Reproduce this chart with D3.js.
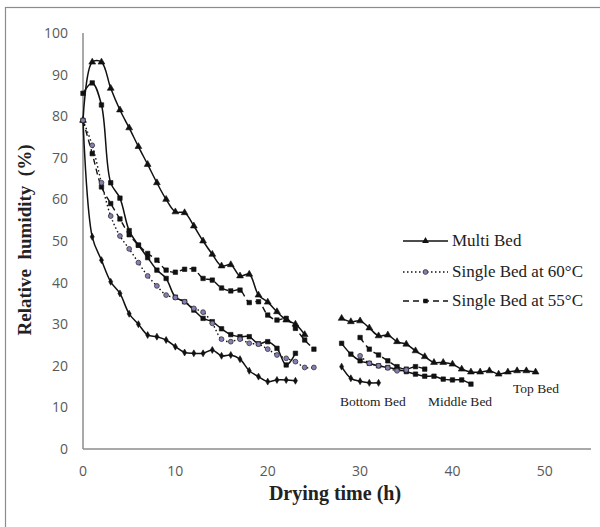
<!DOCTYPE html>
<head>
    <title>Relative humidity vs drying time</title>
    <script src="https://d3js.org/d3.v7.min.js"></script>
</head>
<style>
body { margin: 0; background: #fff; }
svg { display: block; }
.tick-label { font-family: "Open Sans", "Liberation Sans", sans-serif; font-size: 14px; fill: #595959; }
.serif { font-family: "Liberation Serif", "Times New Roman", serif; fill: #222; }
</style>
<body>
    <svg></svg>
</body>

<script>

    // Data (hours, and RH % per series; null = no reading)
    var hours = [0, 1, 2, 3, 4, 5, 6, 7, 8, 9, 10, 11, 12, 13, 14, 15, 16, 17, 18, 19, 20, 21, 22, 23, 24,
                 25, 26, 27, 28, 29, 30, 31, 32, 33, 34, 35, 36, 37, 38, 39, 40, 41, 42, 43, 44, 45, 46, 47, 48, 49];

    var topBed = [79, 93, 93, 86.7, 81.5, 77.2, 72.7, 68.4, 64, 60, 57, 56.8, 53.6, 50, 46.8, 44, 44.3, 41.6, 42, 37, 35.3, 33, 31, 30, 27.5,
                  null, null, null, 31.4, 30.6, 30.8, 29.1, 27.2, 27.4, 25.8, 25.2, 23.6, 22.2, 20.8, 20.8, 20.4, 19.2, 18.5, 18.5, 18.8, 18, 18.5, 18.8, 18.8, 18.5];

    var middleBed = [85.5, 88, 82.7, 64, 60.3, 52.5, 49, 46, 43, 41, 36.5, 35.4, 33.4, 31.4, 30.6, 28.9, 27.5, 27, 27, 25.3, 25.8, 24.2, 20.2, 23, null,
                     null, null, null, 25.4, 22.8, 21.2, 20.6, 20, 19.6, 19.2, 18.6, 18, 17.5, 17.5, 16.8, 16.6, 16.6, 15.6, null, null, null, null, null, null, null];

    var bottomBed = [79, 51, 45.4, 40.2, 37.4, 32.5, 30, 27.4, 27, 26.2, 24.6, 23.2, 23, 23, 23.8, 22.4, 22.6, 21.6, 18.8, 17.4, 16.2, 16.6, 16.6, 16.4, null,
                     null, null, null, 19.8, 17, 16.3, 15.9, 15.9, null, null, null, null, null, null, null, null, null, null, null, null, null, null, null, null, null];

    var single60 = [79, 73, 64, 56, 51.2, 48.1, 44.8, 41.6, 39.2, 37, 36.4, 35.4, 33.8, 32.9, 30.2, 26.4, 25.8, 26.4, 25.4, 25.2, 24, 22.6, 21.8, 21, 19.6,
                    19.6, null, null, null, null, 22.4, 20.6, 20, 19.5, 18.8, 19, null, null, null, null, null, null, null, null, null, null, null, null, null, null];

    var single55 = [79, 71, 63, 59, 55.3, 51.5, 49, 47, 45.4, 43, 42.5, 43.2, 43.2, 41, 40.6, 38.7, 38, 38.2, 35.2, 35.4, 32.2, 31, 31.4, 29, 26.2,
                    24, null, null, null, null, 26.8, 24, 22.6, 21.2, 19.8, 19.2, 19.8, 19.2, null, null, null, null, null, null, null, null, null, null, null, null];

    var xTicks = [0, 10, 20, 30, 40, 50];
    var yTicks = [0, 10, 20, 30, 40, 50, 60, 70, 80, 90, 100];
    var legendNames = ["Multi Bed", "Single Bed at 60\u00b0C", "Single Bed at 55\u00b0C"];

    // Variables
    var width = 600;
    var height = 527;

    var svg = d3.select('svg')
        .attr('width', width)
        .attr('height', height);

    // outer chart border
    svg.append('rect')
        .attr('x', 5.5).attr('y', 7.5)
        .attr('width', 620).attr('height', 540)
        .attr('fill', 'none').attr('stroke', '#8c8c8c').attr('stroke-width', 1.2);

    var x = d3.scaleLinear().domain([0, 55]).range([83, 591]);
    var y = d3.scaleLinear().domain([0, 100]).range([449, 33]);

    // axes (no tick marks, gray lines)
    svg.append('line')
        .attr('x1', x(0)).attr('x2', x(0)).attr('y1', y(100)).attr('y2', y(0))
        .attr('stroke', '#8c8c8c').attr('stroke-width', 1.5);
    svg.append('line')
        .attr('x1', x(0)).attr('x2', x(55)).attr('y1', y(0)).attr('y2', y(0))
        .attr('stroke', '#8c8c8c').attr('stroke-width', 1.5);

    svg.selectAll('.ytick').data(yTicks).enter().append('text')
        .attr('class', 'tick-label')
        .attr('x', 68).attr('y', function (d) { return y(d); })
        .attr('dy', '0.35em').attr('text-anchor', 'end')
        .text(function (d) { return d; });

    svg.selectAll('.xtick').data(xTicks).enter().append('text')
        .attr('class', 'tick-label')
        .attr('x', function (d) { return x(d); }).attr('y', 476)
        .attr('text-anchor', 'middle')
        .text(function (d) { return d; });

    // axis titles
    svg.append('text').attr('class', 'serif')
        .attr('x', 335).attr('y', 500)
        .attr('text-anchor', 'middle')
        .style('font-size', '20px').style('font-weight', 'bold')
        .text('Drying time (h)');

    svg.append('text').attr('class', 'serif')
        .attr('transform', 'translate(31,240)rotate(-90)')
        .attr('text-anchor', 'middle')
        .style('font-size', '19px').style('font-weight', 'bold')
        .style('white-space', 'pre')
        .text('Relative  humidity  (%)');

    function points(values) {
        return hours.map(function (h, i) { return {t: h, v: values[i]}; })
                    .filter(function (d) { return d.v != null; });
    }

    var line = d3.line()
        .defined(function (d) { return d.v != null; })
        .curve(d3.curveCatmullRom.alpha(0.5))
        .x(function (d) { return x(d.t); })
        .y(function (d) { return y(d.v); });

    function drawLine(values, dash, widthPx) {
        var pts = hours.map(function (h, i) { return {t: h, v: values[i]}; });
        svg.append('path')
            .attr('d', line(pts))
            .attr('fill', 'none')
            .attr('stroke', '#111')
            .attr('stroke-width', widthPx)
            .attr('stroke-dasharray', dash);
    }

    var tri = d3.symbol().type(d3.symbolTriangle).size(20);
    var sq = d3.symbol().type(d3.symbolSquare).size(20);
    var dia = d3.symbol().type(d3.symbolDiamond).size(14);

    function drawMarkers(values, sym, fill, stroke) {
        svg.append('g').selectAll('path').data(points(values)).enter().append('path')
            .attr('transform', function (d) { return 'translate(' + x(d.t) + ',' + y(d.v) + ')'; })
            .attr('d', sym)
            .attr('fill', fill)
            .attr('stroke', stroke)
            .attr('stroke-width', 0.6);
    }

    drawLine(bottomBed, null, 1.5);
    drawLine(middleBed, null, 1.5);
    drawLine(topBed, null, 1.5);
    drawLine(single60, '1.5,2.5', 1.4);
    drawLine(single55, '6,4', 1.4);

    drawMarkers(bottomBed, dia, '#111', '#111');
    drawMarkers(middleBed, sq, '#111', '#111');
    drawMarkers(topBed, tri, '#111', '#111');
    drawMarkers(single55, sq, '#111', '#111');

    svg.append('g').selectAll('circle').data(points(single60)).enter().append('circle')
        .attr('cx', function (d) { return x(d.t); })
        .attr('cy', function (d) { return y(d.v); })
        .attr('r', 2.4)
        .attr('fill', '#8a7db5').attr('stroke', '#333').attr('stroke-width', 0.8);

    // legend
    var legend = svg.append('g');
    var legendY = [241, 272, 301];
    var dashes = [null, '1.5,2.5', '6,4'];
    legendNames.forEach(function (name, i) {
        legend.append('line')
            .attr('x1', 403).attr('x2', 448).attr('y1', legendY[i]).attr('y2', legendY[i])
            .attr('stroke', '#111').attr('stroke-width', 1.5)
            .attr('stroke-dasharray', dashes[i]);
        if (i === 0) {
            legend.append('path').attr('transform', 'translate(425.5,' + legendY[i] + ')')
                .attr('d', tri).attr('fill', '#111');
        } else if (i === 1) {
            legend.append('circle').attr('cx', 425.5).attr('cy', legendY[i]).attr('r', 2.4)
                .attr('fill', '#8a7db5').attr('stroke', '#333').attr('stroke-width', 0.8);
        } else {
            legend.append('path').attr('transform', 'translate(425.5,' + legendY[i] + ')')
                .attr('d', sq).attr('fill', '#111');
        }
        legend.append('text').attr('class', 'serif')
            .attr('x', 452).attr('y', legendY[i] + 5)
            .style('font-size', '17px')
            .text(name);
    });

    // bed annotations
    svg.append('text').attr('class', 'serif').attr('x', 340).attr('y', 406).style('font-size', '13.5px').text('Bottom Bed');
    svg.append('text').attr('class', 'serif').attr('x', 428).attr('y', 406).style('font-size', '13.5px').text('Middle Bed');
    svg.append('text').attr('class', 'serif').attr('x', 513).attr('y', 393).style('font-size', '13.5px').text('Top Bed');

</script>
